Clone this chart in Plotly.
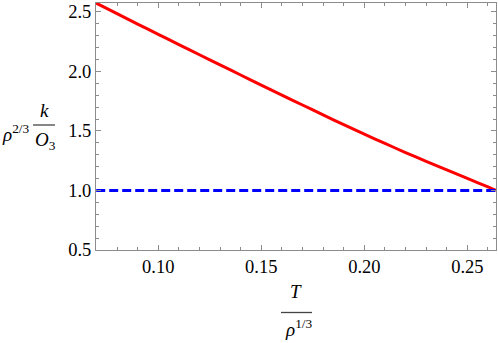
import plotly.graph_objects as go

# Data
t_vals = [0.0699, 0.08, 0.09, 0.10, 0.11, 0.12, 0.13, 0.14, 0.15, 0.16, 0.17,
          0.18, 0.19, 0.20, 0.21, 0.22, 0.23, 0.24, 0.25, 0.26, 0.2639]
ratio_vals = [2.574, 2.485, 2.398, 2.312, 2.226, 2.140, 2.055, 1.970, 1.885, 1.801, 1.718,
              1.635, 1.553, 1.473, 1.395, 1.319, 1.245, 1.173, 1.101, 1.030, 1.0]
ref_level = 1.0
x_ticks = [0.10, 0.15, 0.20, 0.25]
y_ticks = [0.5, 1.0, 1.5, 2.0, 2.5]

W, H = 498, 343
L, R, T, B = 96, 2, 3, 93
PW, PH = W - L - R, H - T - B

def px(x):
    return (x - L) / PW

def py(y):
    return (H - B - y) / PH

FONT = "Liberation Serif, Times New Roman, serif"

fig = go.Figure()
fig.add_trace(go.Scatter(x=t_vals, y=ratio_vals, mode="lines",
                         line=dict(color="#ff0000", width=3, shape="spline", smoothing=0.6),
                         showlegend=False, hoverinfo="skip"))
fig.add_trace(go.Scatter(x=[t_vals[0], t_vals[-1]], y=[ref_level, ref_level], mode="lines",
                         line=dict(color="#0000ff", width=3, dash="9px,4px"),
                         showlegend=False, hoverinfo="skip"))

axis_common = dict(showline=True, linecolor="#8c8c8c", linewidth=1, mirror="ticks",
                   ticks="inside", ticklen=5, tickcolor="#8c8c8c", tickwidth=1,
                   showgrid=False, zeroline=False,
                   tickfont=dict(family=FONT, size=18.5, color="black"))

fig.update_xaxes(range=[0.0698, 0.2639], tickvals=x_ticks, tickformat=".2f",
                 minor=dict(dtick=0.01, tick0=0.0, ticks="inside", ticklen=3,
                            tickcolor="#8c8c8c", tickwidth=1, showgrid=False),
                 **axis_common)
fig.update_yaxes(range=[0.5, 2.575], tickvals=y_ticks, tickformat=".1f",
                 minor=dict(dtick=0.1, tick0=0.0, ticks="inside", ticklen=3,
                            tickcolor="#8c8c8c", tickwidth=1, showgrid=False),
                 **axis_common)

ann_font = dict(family=FONT, size=19, color="black")
annotations = [
    dict(text="<i>T</i>", x=px(296), y=py(291), xref="paper", yref="paper",
         showarrow=False, xanchor="center", yanchor="middle", font=ann_font),
    dict(text="<i>ρ</i><sup>1/3</sup>", x=px(298), y=py(328), xref="paper", yref="paper",
         showarrow=False, xanchor="center", yanchor="middle", font=ann_font),
    dict(text="<i>ρ</i><sup>2/3</sup>", x=px(15), y=py(133), xref="paper", yref="paper",
         showarrow=False, xanchor="center", yanchor="middle", font=ann_font),
    dict(text="<i>k</i>", x=px(44), y=py(110), xref="paper", yref="paper",
         showarrow=False, xanchor="center", yanchor="middle", font=ann_font),
    dict(text="<i>O</i><sub>3</sub>", x=px(45), y=py(141), xref="paper", yref="paper",
         showarrow=False, xanchor="center", yanchor="middle", font=ann_font),
]
shapes = [
    dict(type="line", xref="paper", yref="paper", x0=px(281), x1=px(312),
         y0=py(312.5), y1=py(312.5), line=dict(color="#444444", width=1.3)),
    dict(type="line", xref="paper", yref="paper", x0=px(33), x1=px(55),
         y0=py(125), y1=py(125), line=dict(color="#444444", width=1.3)),
]

fig.update_layout(width=W, height=H, margin=dict(l=L, r=R, t=T, b=B),
                  plot_bgcolor="white", paper_bgcolor="white",
                  annotations=annotations, shapes=shapes)

fig.write_html("out.html", config={"displayModeBar": False},
               post_script="document.body.style.margin='0';document.body.style.padding='0';")
